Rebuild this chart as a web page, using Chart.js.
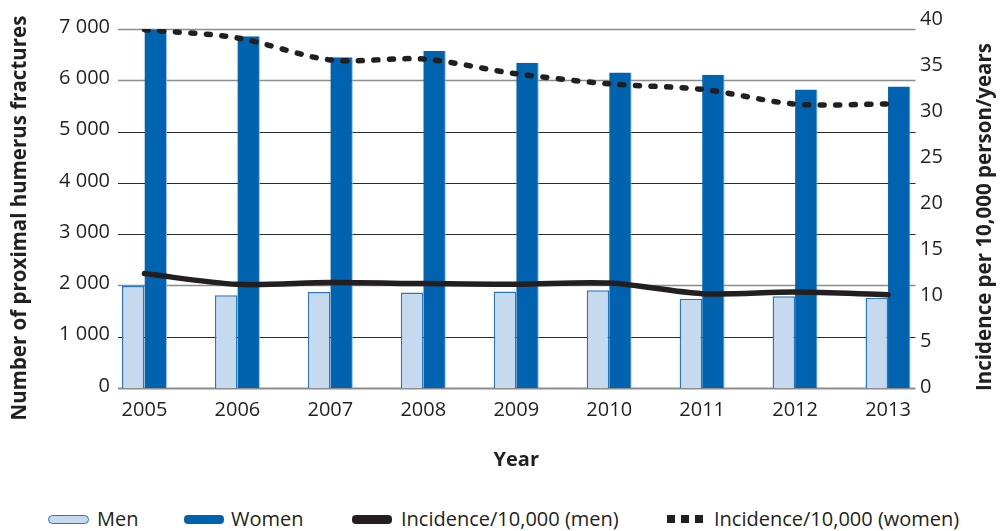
<!DOCTYPE html>
<html>
<head>
<meta charset="utf-8">
<script src="https://cdn.jsdelivr.net/npm/chart.js@4.4.1/dist/chart.umd.min.js"></script>
<style>
html, body { margin: 0; padding: 0; background: #fff; }
#wrap { position: relative; width: 1007px; height: 531px; overflow: hidden; }
#box { position: absolute; left: 0; top: 0; width: 1007px; height: 480px; }
.legend { position: absolute; left: 0; top: 506px; width: 1007px; height: 26px;
  font-family: "Liberation Sans Narrow", "Open Sans", sans-serif; font-size: 20px; color: #231f20; }
.mk { position: absolute; top: 9px; }
.lb { position: absolute; top: 0; line-height: 26px; white-space: nowrap; }
.sq { position: absolute; top: 9px; width: 8px; height: 8px; background: #231f20; }
</style>
</head>
<body>
<div id="wrap">
  <div id="box"><canvas id="chart"></canvas></div>
  <div class="legend">
    <div class="mk" style="left:48px;width:39px;height:7px;background:#c5d9ef;border:1.5px solid #2a75c1;border-radius:5px;"></div>
    <div class="lb" style="left:97px;">Men</div>
    <div class="mk" style="left:184px;width:40px;height:9px;background:#0063af;border-radius:4px;"></div>
    <div class="lb" style="left:231px;">Women</div>
    <div class="mk" style="left:352px;width:40px;height:9px;background:#231f20;border-radius:4px;"></div>
    <div class="lb" style="left:401px;">Incidence/10,000 (men)</div>
    <div class="sq" style="left:667px;"></div>
    <div class="sq" style="left:681px;"></div>
    <div class="sq" style="left:695px;"></div>
    <div class="lb" style="left:714px;">Incidence/10,000 (women)</div>
  </div>
</div>
<script>
const years = ['2005', '2006', '2007', '2008', '2009', '2010', '2011', '2012', '2013'];
const menCount = [1990, 1810, 1870, 1860, 1880, 1905, 1740, 1790, 1760];
const womenCount = [6990, 6860, 6450, 6570, 6340, 6150, 6110, 5820, 5880];
const menIncidence = [12.45, 11.28, 11.47, 11.36, 11.28, 11.42, 10.27, 10.44, 10.16];
const womenIncidence = [39.0, 38.1, 35.7, 35.8, 34.2, 33.1, 32.5, 30.9, 30.9];
const countTicks = [0, 1000, 2000, 3000, 4000, 5000, 6000, 7000];
const incidenceTicks = [0, 5, 10, 15, 20, 25, 30, 35, 40];

const tickFont = { family: '"Open Sans", sans-serif', size: 20 };
const tickFontCss = '400 20px "Open Sans", sans-serif';
const titleFont = '700 20.5px "Open Sans", sans-serif';
const ink = '#231f20';

function spaced(v) {
    return String(v).replace(/\B(?=(\d{3})+(?!\d))/g, ' ');
}

function rotatedText(ctx, text, x, y) {
    ctx.save();
    ctx.translate(x, y);
    ctx.rotate(-Math.PI / 2);
    ctx.fillText(text, 0, 0);
    ctx.restore();
}

// gridlines stop short of the category edges, labels sit over the plot edge
const axisPlugin = {
    id: 'axisDecor',
    beforeDatasetsDraw(chart) {
        const { ctx, chartArea, scales } = chart;
        const x0 = chartArea.left + 20;
        const x1 = chartArea.right - 19;
        ctx.save();
        countTicks.forEach(v => {
            const py = Math.round(scales.y.getPixelForValue(v));
            ctx.beginPath();
            if (v === 0) {
                ctx.strokeStyle = '#8c8c8c';
                ctx.lineWidth = 2;
            } else if (v === 7000 || v === 6000 || v === 2000) {
                ctx.strokeStyle = '#8c8c8c';
                ctx.lineWidth = 1.5;
            } else {
                ctx.strokeStyle = '#2b2b2b';
                ctx.lineWidth = 1;
            }
            ctx.moveTo(x0, py + 0.5);
            ctx.lineTo(x1, py + 0.5);
            ctx.stroke();
        });
        ctx.restore();
    },
    afterDraw(chart) {
        const { ctx, scales } = chart;
        ctx.save();
        ctx.fillStyle = ink;
        ctx.font = tickFontCss;
        ctx.textBaseline = 'middle';
        ctx.textAlign = 'right';
        countTicks.forEach(v => {
            ctx.fillText(spaced(v), 110, scales.y.getPixelForValue(v) - 2);
        });
        ctx.textAlign = 'left';
        incidenceTicks.forEach(v => {
            ctx.fillText(String(v), 920, scales.y1.getPixelForValue(v) - 1);
        });
        ctx.font = titleFont;
        ctx.textAlign = 'center';
        rotatedText(ctx, 'Number of proximal humerus fractures', 20, 218);
        rotatedText(ctx, 'Incidence per 10,000 person/years', 985, 217);
        ctx.restore();
    }
};

new Chart(document.getElementById('chart'), {
    type: 'bar',
    data: {
        labels: years,
        datasets: [
            {
                type: 'line',
                label: 'Incidence/10,000 (men)',
                data: menIncidence,
                yAxisID: 'y1',
                borderColor: ink,
                borderWidth: 5.5,
                borderCapStyle: 'round',
                tension: 0.3,
                pointRadius: 0,
                order: 0
            },
            {
                type: 'line',
                label: 'Incidence/10,000 (women)',
                data: womenIncidence,
                yAxisID: 'y1',
                borderColor: ink,
                borderWidth: 5.5,
                borderDash: [4, 11.5],
                borderCapStyle: 'round',
                tension: 0.3,
                pointRadius: 0,
                order: 0
            },
            {
                label: 'Men',
                data: menCount,
                yAxisID: 'y',
                backgroundColor: '#c5d9ef',
                borderColor: '#2a75c1',
                borderWidth: 1.5,
                categoryPercentage: 0.484,
                barPercentage: 1,
                order: 1
            },
            {
                label: 'Women',
                data: womenCount,
                yAxisID: 'y',
                backgroundColor: '#0063af',
                borderColor: '#8fb8e0',
                borderWidth: { top: 0, left: 0, right: 1, bottom: 0 },
                categoryPercentage: 0.484,
                barPercentage: 1,
                order: 1
            }
        ]
    },
    options: {
        responsive: true,
        maintainAspectRatio: false,
        animation: false,
        layout: { padding: { top: 29, left: 0, right: 0, bottom: 0 } },
        plugins: {
            legend: { display: false },
            tooltip: { enabled: false }
        },
        scales: {
            x: {
                grid: { display: false, drawTicks: false },
                border: { display: false },
                ticks: { color: ink, font: tickFont, padding: 10, maxRotation: 0 },
                title: {
                    display: true,
                    text: 'Year',
                    color: ink,
                    font: { family: '"Open Sans", sans-serif', size: 20, weight: '700' },
                    padding: 8
                },
                afterFit: s => { s.height = 92; }
            },
            y: {
                position: 'left',
                min: 0,
                max: 7000,
                grid: { display: false, drawTicks: false },
                border: { display: false },
                ticks: { display: false, stepSize: 1000 },
                afterFit: s => { s.width = 98; }
            },
            y1: {
                position: 'right',
                min: 0,
                max: 39.07,
                grid: { display: false, drawTicks: false },
                border: { display: false },
                ticks: { display: false, autoSkip: false },
                afterBuildTicks: s => { s.ticks = incidenceTicks.map(v => ({ value: v })); },
                afterFit: s => { s.width = 72.5; }
            }
        }
    },
    plugins: [axisPlugin]
});
</script>
</body>
</html>
